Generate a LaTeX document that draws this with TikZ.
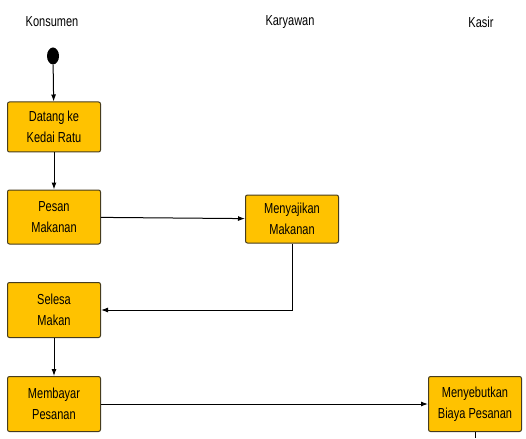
\documentclass[tikz,border=0pt]{standalone}
\usepackage{fontspec}
\setmainfont[FakeStretch=0.76]{Liberation Sans}
\usetikzlibrary{shapes.geometric,arrows.meta}
\definecolor{actfill}{RGB}{255,194,0}
\definecolor{actedge}{RGB}{70,60,30}
\tikzset{
  activity/.style={draw=actedge, fill=actfill, rounded corners=2pt, minimum width=93pt,
    minimum height=50pt, align=center, font=\fontsize{14.5}{21}\selectfont, line width=1pt},
  lane/.style={font=\fontsize{14.5}{16}\selectfont},
  flow/.style={-{Latex[length=7pt,width=5pt]}, line width=1pt}
}
\begin{document}
\begin{tikzpicture}[x=1pt, y=-1pt]
  \useasboundingbox (0,0) rectangle (526,438);
  \node[lane] (konsumen) at (52,22) {Konsumen};
  \node[lane] (karyawan) at (290,22) {Karyawan};
  \node[lane] (kasir) at (481,22) {Kasir};
  \node[ellipse, fill=black, minimum width=12pt, minimum height=17pt, inner sep=0pt] (start) at (53,56) {};
  \node[activity] (datang) at (54,127) {Datang ke\\Kedai Ratu};
  \node[activity, minimum height=54pt] (pesan) at (54,217) {Pesan\\Makanan};
  \node[activity, minimum height=48pt] (menyajikan) at (292,219) {Menyajikan\\Makanan};
  \node[activity, minimum height=55pt] (selesai) at (54,310) {Selesa\\Makan};
  \node[activity, minimum height=55pt] (membayar) at (54,404) {Membayar\\Pesanan};
  \node[activity, minimum height=55pt] (menyebutkan) at (475,404) {Menyebutkan\\Biaya Pesanan};
  \coordinate (lanjut) at (475,438);
  \draw[flow] (start) -- (datang);
  \draw[flow] (datang) -- (pesan);
  \draw[flow] (pesan) -- (menyajikan);
  \draw[flow] (menyajikan.south) |- (selesai.east);
  \draw[flow] (selesai) -- (membayar);
  \draw[flow] (membayar) -- (menyebutkan);
  \draw[line width=0.7pt] (menyebutkan) -- (lanjut);
\end{tikzpicture}
\end{document}
